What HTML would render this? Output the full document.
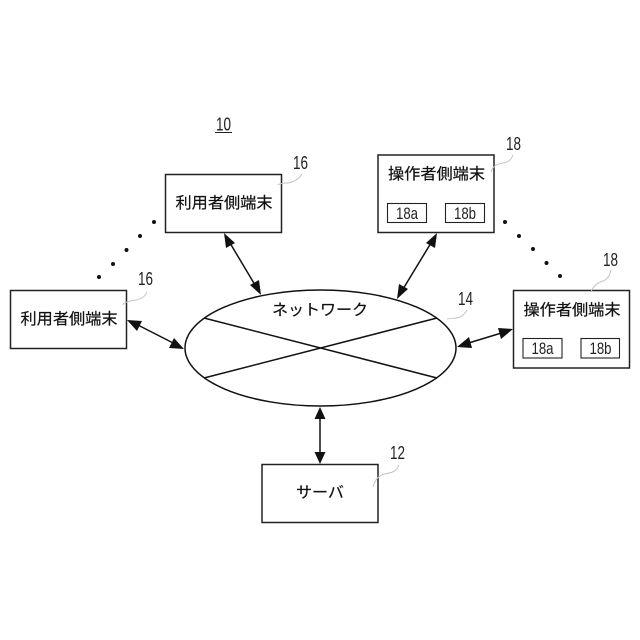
<!DOCTYPE html>
<html lang="ja">
<head>
<meta charset="utf-8">
<style>
html,body{margin:0;padding:0;background:#fff}
svg{display:block}
.jp{font-family:"Liberation Sans","Noto Sans CJK JP",sans-serif;font-size:15.5px;fill:#111;stroke:#111;stroke-width:.2}
.n{font-family:"Liberation Sans",sans-serif;font-size:18px;fill:#222}
.s{font-family:"Liberation Sans",sans-serif;font-size:17px;fill:#222}
.b{fill:#fff;stroke:#222;stroke-width:1.5}
.t{fill:#fff;stroke:#222;stroke-width:1.1}
.l{stroke:#111;stroke-width:1.5;fill:none}
.g{stroke:#c4c4c4;stroke-width:1;fill:none}
.h{fill:#111;stroke:none}
</style>
</head>
<body>
<svg width="640" height="640" viewBox="0 0 640 640" xmlns="http://www.w3.org/2000/svg">
<rect width="640" height="640" fill="#fff"/>

<text class="n" x="216" y="130.500" textLength="15" lengthAdjust="spacingAndGlyphs">10</text>
<line x1="215" y1="132.500" x2="232" y2="132.500" stroke="#222" stroke-width="1"/>

<!-- boxes -->
<rect class="b" x="165.500" y="174.500" width="116" height="58"/>
<rect class="b" x="10.500" y="290.500" width="116" height="58"/>
<rect class="b" x="378" y="155" width="116" height="77.500"/>
<rect class="b" x="513.500" y="290.500" width="116" height="77.500"/>
<rect class="b" x="262" y="464.500" width="116" height="58"/>

<rect class="t" x="387.500" y="203.500" width="39" height="19"/>
<rect class="t" x="445.500" y="203.500" width="39" height="19"/>
<rect class="t" x="523" y="338.500" width="39" height="19.500"/>
<rect class="t" x="581" y="338.500" width="38.500" height="19.500"/>

<!-- network -->
<ellipse cx="320.500" cy="348" rx="135.500" ry="58" fill="#fff" stroke="#111" stroke-width="1.500"/>
<line class="l" x1="204" y1="318" x2="437" y2="378"/>
<line class="l" x1="204" y1="378" x2="437" y2="318"/>

<!-- connectors -->
<line class="l" x1="227" y1="238" x2="258" y2="290"/>
<polygon class="h" points="224,233 235,243 226,248"/>
<polygon class="h" points="261,295 250,285 259,280"/>

<line class="l" x1="434" y1="238" x2="400" y2="294"/>
<polygon class="h" points="437,233 435,248 426,243"/>
<polygon class="h" points="397,299 399,284 408,289"/>

<line class="l" x1="132" y1="322" x2="179" y2="346"/>
<polygon class="h" points="127,320 142,321 137,331"/>
<polygon class="h" points="184,349 169,348 174,338"/>

<line class="l" x1="462" y1="345" x2="508" y2="331"/>
<polygon class="h" points="457,347 469,337 472,348"/>
<polygon class="h" points="513,329 501,339 498,328"/>

<line class="l" x1="320" y1="412" x2="320" y2="459"/>
<polygon class="h" points="320,407 325.500,419 314.500,419"/>
<polygon class="h" points="320,464 314.500,452 325.500,452"/>

<!-- dots -->
<g class="h">
<circle cx="154" cy="222" r="2"/><circle cx="140" cy="236" r="2"/><circle cx="126.500" cy="250" r="2"/><circle cx="113" cy="264" r="2"/><circle cx="99" cy="277" r="2"/>
<circle cx="505" cy="222" r="2"/><circle cx="519" cy="236" r="2"/><circle cx="533" cy="249" r="2"/><circle cx="546.500" cy="263" r="2"/><circle cx="560" cy="276" r="2"/>
</g>

<!-- leaders -->
<path class="g" d="M278,185 C281,182 287,184 292,182 C297,180 300,178 302,174"/>
<path class="g" d="M123,305 C124,302 130,301 136,300 C141,299 145,297 147,292"/>
<path class="g" d="M491,172 C493,166 497,164 503,163 C509,162 511,160 513,155"/>
<path class="g" d="M591,292 C593,286 597,283 603,281 C608,279 610,275 611,270"/>
<path class="g" d="M447,319 C451,318 455,319 460,317 C464,315 465,313 467,310"/>
<path class="g" d="M373,487 C375,480 378,476 384,474 C392,473 397,471 399,465"/>

<!-- ref numbers -->
<text class="n" x="293" y="169" textLength="15" lengthAdjust="spacingAndGlyphs">16</text>
<text class="n" x="138" y="285" textLength="15" lengthAdjust="spacingAndGlyphs">16</text>
<text class="n" x="506" y="150" textLength="15" lengthAdjust="spacingAndGlyphs">18</text>
<text class="n" x="603" y="266" textLength="15" lengthAdjust="spacingAndGlyphs">18</text>
<text class="n" x="458" y="305" textLength="15" lengthAdjust="spacingAndGlyphs">14</text>
<text class="n" x="390" y="459" textLength="15" lengthAdjust="spacingAndGlyphs">12</text>

<!-- labels -->
<text class="jp" x="175.500" y="208" textLength="97" lengthAdjust="spacingAndGlyphs">利用者側端末</text>
<text class="jp" x="20.500" y="324" textLength="97" lengthAdjust="spacingAndGlyphs">利用者側端末</text>
<text class="jp" x="388" y="179" textLength="97" lengthAdjust="spacingAndGlyphs">操作者側端末</text>
<text class="jp" x="523.500" y="315" textLength="97" lengthAdjust="spacingAndGlyphs">操作者側端末</text>
<text class="jp" x="272" y="315" textLength="96" lengthAdjust="spacingAndGlyphs">ネットワーク</text>
<text class="jp" x="296" y="497.500" textLength="48" lengthAdjust="spacingAndGlyphs">サーバ</text>

<text class="s" x="396" y="219" textLength="22" lengthAdjust="spacingAndGlyphs">18a</text>
<text class="s" x="454" y="219" textLength="22" lengthAdjust="spacingAndGlyphs">18b</text>
<text class="s" x="531.500" y="354" textLength="22" lengthAdjust="spacingAndGlyphs">18a</text>
<text class="s" x="589.500" y="354" textLength="22" lengthAdjust="spacingAndGlyphs">18b</text>
</svg>
</body>
</html>
